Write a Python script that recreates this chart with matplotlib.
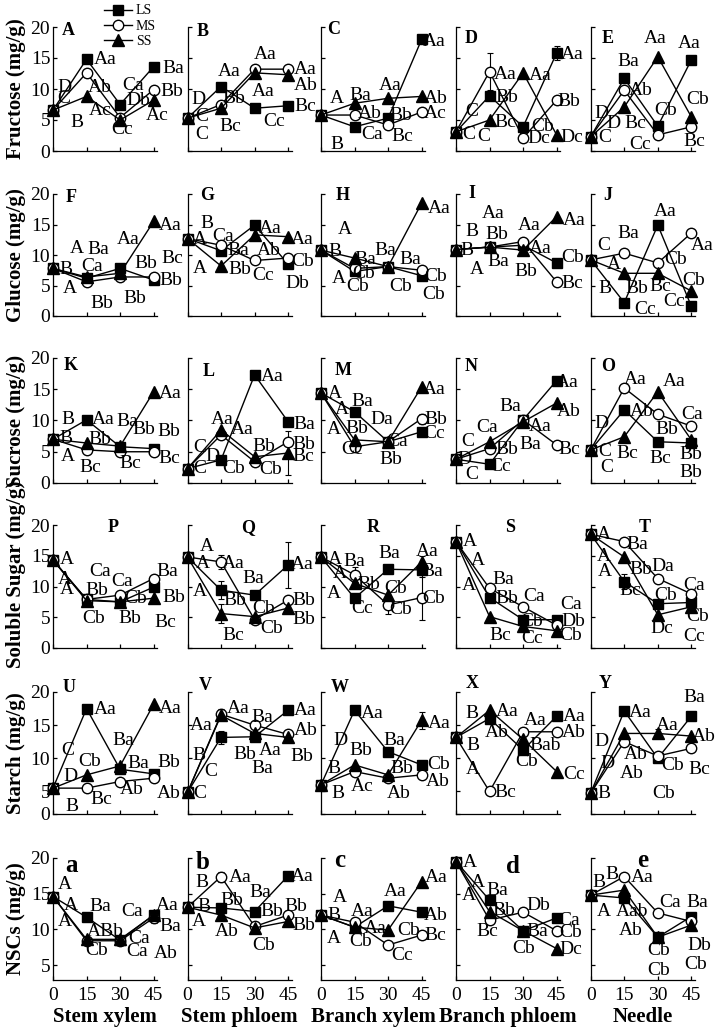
import matplotlib
matplotlib.use('Agg')
import matplotlib.pyplot as plt
from matplotlib.lines import Line2D

plt.rcParams['font.family'] = ['Liberation Serif', 'DejaVu Serif']

# 采样天数
DAYS = [0, 15, 30, 45]
SERIES = ['LS', 'MS', 'SS']
TISSUES = ['Stem xylem', 'Stem phloem', 'Branch xylem', 'Branch phloem', 'Needle']
ROW_TITLES = ['Fructose (mg/g)', 'Glucose (mg/g)', 'Sucrose (mg/g)',
              'Soluble Sugar (mg/g)', 'Starch (mg/g)', 'NSCs (mg/g)']
PANEL_TAGS = [list('ABCDE'), list('FGHIJ'), list('KLMNO'), list('PQRST'), list('UVWXY'), list('abcde')]

# ---- 数据: 每行 5 个组织, 每个组织 4 个时间点 ----
FRUCTOSE_LS = [[6.6, 14.8, 7.5, 13.6], [5.3, 10.4, 6.9, 7.3], [5.8, 3.9, 5.3, 18.0], [3.1, 8.9, 3.9, 15.8], [2.3, 11.7, 4.0, 14.7]]
FRUCTOSE_MS = [[6.6, 12.6, 5.4, 9.9], [5.3, 7.5, 13.2, 13.2], [5.8, 5.8, 4.2, 6.3], [3.1, 12.8, 2.1, 8.2], [2.3, 9.8, 2.6, 3.9]]
FRUCTOSE_SS = [[6.6, 8.8, 5.0, 8.2], [5.3, 6.9, 12.6, 12.3], [5.8, 7.7, 8.5, 8.8], [3.1, 5.0, 12.6, 2.6], [2.3, 7.1, 15.2, 5.5]]

GLUCOSE_LS = [[7.8, 6.2, 7.8, 5.9], [12.7, 10.7, 14.9, 8.5], [10.8, 7.3, 8.1, 6.6], [10.9, 11.3, 11.6, 8.7], [9.2, 2.2, 14.9, 1.6]]
GLUCOSE_MS = [[7.8, 5.6, 6.4, 6.4], [12.7, 11.6, 9.1, 9.5], [10.8, 7.8, 8.1, 7.5], [10.9, 11.3, 12.2, 5.6], [9.2, 10.3, 8.7, 13.6]]
GLUCOSE_SS = [[7.8, 6.4, 7.0, 15.5], [12.7, 8.2, 13.3, 13.0], [10.8, 9.5, 8.1, 18.5], [10.9, 11.3, 10.8, 16.3], [9.2, 7.0, 7.0, 4.1]]

SUCROSE_LS = [[7.0, 10.1, 5.8, 5.5], [2.3, 3.7, 17.3, 9.8], [14.4, 11.4, 6.6, 8.2], [3.8, 3.0, 10.1, 16.4], [5.3, 11.7, 6.6, 6.4]]
SUCROSE_MS = [[7.0, 5.3, 5.0, 5.0], [2.3, 7.7, 3.4, 6.6], [14.4, 5.8, 6.6, 10.3], [3.8, 5.5, 10.1, 6.1], [5.3, 15.2, 11.0, 9.1]]
SUCROSE_SS = [[7.0, 6.4, 5.9, 14.6], [2.3, 8.5, 4.2, 4.8], [14.4, 6.9, 6.6, 15.4], [3.8, 6.6, 9.8, 12.8], [5.3, 7.4, 14.6, 6.9]]

SUGAR_LS = [[14.3, 7.9, 7.5, 9.9], [14.8, 9.4, 8.6, 13.5], [14.8, 8.1, 12.8, 12.7], [17.3, 8.2, 4.6, 4.6], [18.5, 10.8, 7.2, 7.4]]
SUGAR_MS = [[14.3, 7.9, 8.6, 11.3], [14.8, 14.0, 4.6, 7.8], [14.8, 11.9, 7.0, 8.2], [17.3, 9.7, 6.7, 3.7], [18.5, 17.3, 11.3, 8.8]]
SUGAR_SS = [[14.3, 7.7, 7.5, 8.1], [14.8, 5.6, 5.1, 6.5], [14.8, 10.5, 8.6, 14.0], [17.3, 5.1, 3.5, 2.8], [18.5, 14.8, 5.4, 6.7]]

STARCH_LS = [[5.5, 17.5, 8.35, 7.65], [4.85, 13.15, 13.25, 17.25], [6.0, 17.25, 11.0, 9.0], [13.15, 16.0, 11.25, 16.35], [4.75, 17.15, 10.0, 16.35]]
STARCH_MS = [[5.5, 5.5, 6.5, 7.0], [4.85, 16.65, 15.0, 13.6], [6.0, 8.0, 7.0, 7.5], [13.15, 5.0, 14.0, 14.0], [4.75, 12.5, 10.35, 11.5]]
STARCH_SS = [[5.5, 7.5, 8.85, 18.15], [4.85, 16.5, 13.75, 13.15], [6.0, 9.0, 7.5, 15.75], [13.15, 17.25, 12.85, 8.0], [4.75, 13.75, 13.75, 13.35]]

NSC_LS = [[14.6, 11.7, 8.5, 12.0], [13.1, 13.0, 12.5, 17.5], [12.0, 10.3, 13.3, 12.4], [19.5, 14.1, 9.8, 11.6], [14.8, 14.4, 8.9, 11.8]]
NSC_MS = [[14.6, 8.4, 8.4, 11.6], [13.1, 17.4, 10.4, 12.0], [12.0, 11.0, 7.8, 9.2], [19.5, 11.3, 12.4, 9.8], [14.8, 17.4, 12.3, 11.1]]
NSC_SS = [[14.6, 8.6, 8.6, 12.0], [13.1, 12.0, 10.2, 11.1], [12.0, 10.3, 9.9, 16.7], [19.5, 12.5, 9.8, 7.3], [14.8, 15.5, 8.9, 10.6]]

# 误差线 (行, 列, 处理, 时间点序号, 标准误)
ERRORS = [
    (0, 3, 'LS', 3, 1.1), (0, 3, 'MS', 1, 3.0),
    (2, 1, 'SS', 3, 3.5), (2, 2, 'MS', 3, 0.8),
    (3, 1, 'LS', 1, 1.5), (3, 1, 'LS', 3, 3.8), (3, 1, 'MS', 1, 1.2), (3, 1, 'SS', 1, 1.5),
    (3, 2, 'MS', 1, 1.2), (3, 2, 'MS', 2, 1.5), (3, 2, 'MS', 3, 3.7), (3, 2, 'LS', 3, 1.2), (3, 2, 'SS', 3, 1.0),
    (3, 4, 'LS', 1, 1.2),
    (4, 1, 'MS', 1, 0.8), (4, 1, 'LS', 1, 1.0), (4, 2, 'SS', 3, 1.3), (4, 4, 'SS', 2, 0.7),
    (5, 0, 'MS', 3, 0.7), (5, 1, 'LS', 3, 0.6), (5, 1, 'MS', 1, 0.7), (5, 2, 'LS', 3, 0.6),
]

# 显著性字母 (文字, x, y)
FRUCTOSE_LABELS = [
    [('D', 5.3, 10.3), ('C', 4.8, 8.5), ('B', 10.5, 4.6), ('Aa', 23.3, 14.8), ('Ab', 20.7, 10.3), ('Ac', 21, 6.6),
     ('Ca', 36, 10.5), ('Db', 38.3, 8.2), ('Cc', 30.8, 3.4), ('Ba', 53.7, 13.3), ('Bb', 53.3, 9.6), ('Ac', 46.5, 5.8)],
    [('D', 4.8, 8.3), ('C', 6.3, 5.5), ('C', 6.3, 2.6), ('Aa', 18.8, 12.8), ('Bb', 20.6, 8.5), ('Bc', 19, 3.9),
     ('Aa', 34.8, 15.5), ('Aa', 34, 9.6), ('Cc', 38.6, 4.7), ('Aa', 52.8, 13.1), ('Ab', 52.8, 10.5), ('Bc', 52.8, 7.1)],
    [('A', 7, 8.5), ('B', 7, 1.1), ('Ba', 17.6, 9.0), ('Ab', 22, 6.1), ('Ca', 22.8, 2.6), ('Aa', 31, 10.6),
     ('Bb', 35.5, 5.8), ('Bc', 36.3, 2.3), ('Aa', 50.5, 17.6), ('Ab', 51.3, 8.5), ('Ac', 51.3, 6.1)],
    [('C', 7, 6.3), ('C', 5.5, 2.6), ('C', 12.3, 2.3), ('Aa', 22, 12.3), ('Bb', 22.8, 8.7), ('Bc', 22, 4.6),
     ('Aa', 37.8, 12.1), ('Cb', 38.6, 3.9), ('Dc', 37, 2.0), ('Aa', 52, 15.6), ('Bb', 50.6, 8.0), ('Dc', 52, 2.2)],
    [('D', 5, 6.1), ('D', 10.2, 4.4), ('C', 6.5, 2.2), ('Ba', 17, 14.4), ('Ab', 22.2, 9.8), ('Bc', 20, 4.5),
     ('Cc', 22.2, 1.0), ('Aa', 29, 18.2), ('Cb', 33.5, 6.6), ('Aa', 44, 17.4), ('Cb', 47.7, 8.3), ('Bc', 46.2, 1.5)],
]
GLUCOSE_LABELS = [
    [('A', 10.5, 11.1), ('B', 6, 7.6), ('A', 7.5, 4.5), ('Ba', 20.3, 10.9), ('Ca', 17.3, 8.1), ('Bb', 21.8, 2.1),
     ('Aa', 33.8, 12.5), ('Bb', 36.8, 2.9), ('Bb', 41.3, 8.6), ('Bc', 53.3, 9.4), ('Bb', 52.5, 5.9), ('Aa', 52.5, 14.9)],
    [('B', 8.6, 15.2), ('A', 5.6, 12.6), ('A', 5.6, 7.8), ('Ca', 16, 13.0), ('Ba', 22.8, 10.8), ('Bb', 23.6, 7.6),
     ('Aa', 37, 14.4), ('Ab', 36.3, 10.8), ('Cc', 34, 6.6), ('Aa', 51.3, 12.5), ('Cb', 51.3, 8.9), ('Db', 49, 5.3)],
    [('A', 10.8, 14.1), ('B', 6.3, 10.5), ('A', 7.8, 6.2), ('Ba', 19.8, 9.2), ('Cb', 19, 7.0), ('Cb', 16.5, 4.8),
     ('Ba', 28.8, 10.8), ('Cb', 35.5, 4.8), ('Ba', 40, 9.2), ('Aa', 52.8, 17.6), ('Cb', 51.3, 6.5), ('Cb', 50.5, 3.6)],
    [('B', 7, 13.8), ('B', 5.1, 10.8), ('A', 9.3, 7.7), ('Aa', 16.8, 16.8), ('Bb', 18.3, 13.3), ('Ba', 19, 8.9),
     ('Aa', 32.6, 14.9), ('Aa', 37.8, 11.1), ('Bb', 31, 7.3), ('Aa', 52.8, 15.7), ('Cb', 52, 9.6), ('Bc', 52, 5.35)],
    [('C', 5.7, 11.6), ('A', 10.2, 8.4), ('B', 6.5, 4.5), ('Ba', 17, 13.5), ('Bb', 20.7, 4.5), ('Cc', 24.5, 1.0),
     ('Aa', 33.5, 17.1), ('Cb', 38, 9.2), ('Bc', 31.2, 4.8), ('Cc', 37.2, 2.4), ('Aa', 50, 11.5), ('Cb', 46.2, 5.9)],
]
SUCROSE_LABELS = [
    [('B', 6.8, 10.1), ('B', 6, 7.1), ('A', 6.8, 4.2), ('Aa', 22.5, 10.1), ('Bb', 21, 6.9), ('Bc', 16.5, 2.5),
     ('Ba', 33, 9.8), ('Bc', 34.5, 3.1), ('Bb', 40.5, 8.6), ('Bb', 51.8, 8.2), ('Bc', 51.8, 3.9), ('Aa', 52.5, 14.3)],
    [('C', 5.6, 5.7), ('D', 11.1, 4.2), ('C', 5.6, 2.3), ('Aa', 15.3, 10.2), ('Aa', 24.5, 8.5), ('Cb', 20.6, 2.3),
     ('Aa', 37.8, 17.1), ('Bb', 34, 5.9), ('Cb', 37, 2.1), ('Ba', 52, 9.3), ('Bb', 52, 6.2), ('Bc', 52, 4.2)],
    [('A', 6.3, 14.3), ('A', 9.3, 11.7), ('A', 5.6, 8.5), ('Ba', 18.3, 13.0), ('Bb', 16, 8.7), ('Cc', 13.8, 5.4),
     ('Da', 27.3, 10.1), ('Ca', 34, 6.6), ('Bb', 31, 3.7), ('Aa', 50.5, 15.0), ('Bb', 51.3, 10.1), ('Cc', 50.5, 7.9)],
    [('C', 5.1, 6.6), ('D', 4, 3.7), ('C', 7, 1.4), ('Ca', 13.8, 8.9), ('Bb', 22.8, 5.4), ('Cc', 19.8, 2.7),
     ('Ba', 24.3, 12.2), ('Aa', 37.8, 9.0), ('Ba', 33.3, 6.1), ('Aa', 49.8, 16.1), ('Ab', 50.6, 11.4), ('Bc', 50.6, 5.3)],
    [('D', 5, 9.6), ('C', 6.5, 5.0), ('C', 7.2, 2.5), ('Aa', 20, 16.5), ('Ab', 23, 11.4), ('Bc', 16.2, 4.75),
     ('Aa', 37.2, 16.2), ('Bb', 34.2, 8.5), ('Bc', 31.2, 3.9), ('Ca', 45.5, 11.0), ('Bb', 44.7, 4.5), ('Bb', 44.7, 1.7)],
]
SUGAR_LABELS = [
    [('A', 6, 14.4), ('A', 5.3, 11.2), ('A', 6, 9.5), ('Ca', 21, 12.4), ('Bb', 19.5, 9.4), ('Cb', 18, 4.8),
     ('Ca', 30.8, 10.8), ('Cb', 36.8, 8.1), ('Bb', 34.5, 4.8), ('Ba', 51, 12.4), ('Bb', 54, 8.2), ('Bc', 50.3, 4.2)],
    [('A', 8.6, 16.5), ('A', 7, 13.8), ('A', 5.6, 9.2), ('Aa', 20.6, 13.8), ('Bb', 21.3, 7.8), ('Bc', 20.6, 2.1),
     ('Ba', 29.6, 11.3), ('Cb', 34, 6.4), ('Cb', 37.8, 3.2), ('Aa', 51.3, 13.5), ('Bb', 52, 7.7), ('Bb', 52, 4.6)],
    [('A', 6.3, 14.4), ('A', 8.6, 12.1), ('A', 5.6, 8.9), ('Ba', 15, 14.0), ('Bb', 21.3, 10.3), ('Cc', 18.3, 6.4),
     ('Ba', 30.3, 15.4), ('Cb', 33.3, 9.7), ('Cb', 35.5, 6.2), ('Aa', 47.5, 15.7), ('Ba', 49.8, 12.4), ('Cb', 50.5, 8.1)],
    [('A', 6, 17.3), ('A', 10, 14.3), ('A', 5.6, 10.2), ('Ba', 21.3, 11.1), ('Bb', 22.8, 8.1), ('Bc', 19.8, 2.1),
     ('Ca', 34.8, 8.3), ('Cb', 34, 4.3), ('Cc', 34, 1.6), ('Ca', 51.3, 7.0), ('Db', 52.5, 4.3), ('Cb', 51.3, 2.0)],
    [('A', 5.7, 18.5), ('A', 5.7, 14.9), ('A', 6.5, 12.4), ('Ba', 20.7, 16.9), ('Bb', 22.2, 12.7), ('Bc', 17.7, 9.4),
     ('Da', 32, 13.2), ('Cb', 33.5, 8.6), ('Dc', 32, 3.2), ('Ca', 46.2, 10.2), ('Cb', 47.7, 5.2), ('Cc', 46.2, 1.9)],
]
STARCH_LABELS = [
    [('C', 6.8, 11.25), ('D', 7.8, 7.25), ('B', 8.3, 2.75), ('Aa', 23.3, 17.35), ('Cb', 16.5, 9.5), ('Bc', 21.8, 3.75),
     ('Ba', 31.5, 12.65), ('Ba', 38.3, 9.25), ('Ab', 35.3, 5.25), ('Aa', 52.5, 17.5), ('Bb', 51.8, 9.35), ('Ab', 51.8, 4.75)],
    [('Aa', 6.3, 15.0), ('B', 5.3, 10.35), ('C', 10.5, 8.0), ('C', 5.6, 4.65), ('Aa', 22.8, 17.5), ('Bb', 25.8, 10.5),
     ('Ba', 33.3, 16.15), ('Aa', 37, 11.25), ('Ba', 33.3, 8.5), ('Aa', 52.8, 17.25), ('Ab', 52.8, 14.25), ('Bb', 51.3, 10.25)],
    [('D', 8.6, 12.75), ('B', 5.6, 8.5), ('B', 7.8, 4.75), ('Aa', 22.8, 16.75), ('Bb', 18, 11.15), ('Ac', 18.3, 5.75),
     ('Ba', 32.6, 12.75), ('Bb', 36.3, 8.5), ('Ab', 34.8, 4.75), ('Aa', 52.8, 15.25), ('Cb', 52.8, 9.0), ('Ab', 52, 6.5)],
    [('B', 7, 16.75), ('B', 7.5, 12.0), ('A', 7.5, 8.35), ('Aa', 22.8, 17.0), ('Ab', 18.3, 13.85), ('Bc', 22, 4.85),
     ('Aa', 35.5, 15.75), ('Bab', 40, 12.0), ('Cb', 31.8, 9.5), ('Aa', 52.8, 16.35), ('Ab', 52.8, 13.85), ('Cc', 52.8, 7.5)],
    [('D', 5, 12.5), ('D', 7.5, 9.25), ('B', 6, 4.65), ('Aa', 22.2, 16.85), ('Ab', 20, 10.5), ('Ab', 18.5, 7.65),
     ('Aa', 34.2, 15.0), ('Cb', 36.5, 8.85), ('Cb', 32.7, 4.75), ('Ba', 46.2, 19.15), ('Ab', 50.7, 13.35), ('Bc', 48.5, 8.35)],
]
NSC_LABELS = [
    [('A', 5.3, 16.25), ('A', 8, 13.4), ('A', 5.3, 11.1), ('Ba', 21, 13.2), ('ABb', 23.3, 9.7), ('Cb', 19.5, 7.1),
     ('Ca', 35.3, 12.5), ('Ca', 38.3, 8.75), ('Ca', 37.5, 6.9), ('Aa', 51, 13.4), ('Ba', 52.5, 10.4), ('Ab', 50.3, 6.6)],
    [('B', 6.3, 16.5), ('B', 7.4, 13.2), ('A', 5.1, 11.1), ('Aa', 23.6, 17.3), ('Bb', 19.8, 14.1), ('Ab', 17.6, 9.7),
     ('Ba', 32.6, 15.1), ('Bb', 37.8, 12.5), ('Cb', 34, 7.8), ('Aa', 51.3, 17.4), ('Bb', 48.5, 13.2), ('Bb', 52, 10.6)],
    [('A', 8.6, 14.4), ('B', 5.6, 11.9), ('A', 5.6, 8.75), ('Aa', 18.3, 12.5), ('Aa', 24.3, 10.15), ('Cb', 17.6, 8.3),
     ('Aa', 33.3, 15.3), ('Cb', 39.3, 9.9), ('Cc', 36.3, 6.3), ('Aa', 51.3, 17.2), ('Ab', 51.3, 12.0), ('Bc', 51.3, 9.2)],
    [('A', 6.3, 19.3), ('A', 10, 16.5), ('A', 5.6, 14.8), ('Ba', 18.3, 15.5), ('Bb', 21.3, 12.7), ('Bc', 13.8, 9.7),
     ('Db', 37, 13.4), ('Ba', 36.3, 9.7), ('Cb', 30.3, 7.3), ('Ca', 50.6, 11.3), ('Cb', 51.3, 9.5), ('Dc', 51.3, 7.2)],
    [('B', 3.5, 16.5), ('B', 9.5, 17.7), ('A', 5.7, 12.5), ('Aa', 23, 17.3), ('Aab', 18.5, 12.5), ('Ab', 17.7, 9.9),
     ('Ca', 35.7, 13.8), ('Cb', 30.5, 7.1), ('Cb', 30.5, 4.2), ('Ba', 47.7, 13.8), ('Db', 48.5, 7.8), ('Cb', 47, 5.1)],
]

ROWS = [
    (FRUCTOSE_LS, FRUCTOSE_MS, FRUCTOSE_SS, FRUCTOSE_LABELS),
    (GLUCOSE_LS, GLUCOSE_MS, GLUCOSE_SS, GLUCOSE_LABELS),
    (SUCROSE_LS, SUCROSE_MS, SUCROSE_SS, SUCROSE_LABELS),
    (SUGAR_LS, SUGAR_MS, SUGAR_SS, SUGAR_LABELS),
    (STARCH_LS, STARCH_MS, STARCH_SS, STARCH_LABELS),
    (NSC_LS, NSC_MS, NSC_SS, NSC_LABELS),
]

# ---- 版式 (像素) ----
W, H = 717, 1032
COL_LEFT = [53, 187.5, 321, 456, 590.7]
AX_W = 104
ROW_TB = [(27, 151), (194, 316), (358, 483), (525, 648), (692, 814), (858, 980)]
Y_BOTTOM = [0, 0, 0, 0, 1.6, 2.9]
YLABEL_Y = [0.5, 0.5, 0.5, 0.6, 0.5, 0.5]
TAG_X = [[0.15, 0.15, 0.12, 0.15, 0.16], [0.17, 0.19, 0.21, 0.15, 0.16], [0.17, 0.2, 0.21, 0.15, 0.17],
         [0.58, 0.58, 0.5, 0.52, 0.52], [0.15, 0.17, 0.18, 0.16, 0.14], [0.18, 0.15, 0.18, 0.55, 0.5]]
TAG_Y = [[0.97, 0.96, 0.98, 0.91, 0.91], [0.975, 0.99, 0.99, 1.0, 0.99], [0.94, 0.89, 0.9, 0.93, 0.93],
         [0.98, 0.98, 0.98, 0.98, 0.98], [1.04, 1.05, 1.04, 1.07, 1.07], [0.94, 0.96, 0.98, 0.93, 0.98]]

STYLE = {
    'LS': dict(marker='s', mfc='black', ms=6.5),
    'MS': dict(marker='o', mfc='white', ms=7.5),
    'SS': dict(marker='^', mfc='black', ms=8),
}

fig = plt.figure(figsize=(W / 100, H / 100), dpi=100)

for r, (ls_vals, ms_vals, ss_vals, labels) in enumerate(ROWS):
    top, bot = ROW_TB[r]
    for c, left in enumerate(COL_LEFT):
        ax = fig.add_axes([left / W, 1 - bot / H, AX_W / W, (bot - top) / H])
        vals = {'LS': ls_vals[c], 'MS': ms_vals[c], 'SS': ss_vals[c]}

        # 折线 + 标记
        for s in SERIES:
            st = STYLE[s]
            ax.plot(DAYS, vals[s], color='black', lw=1.0, marker=st['marker'], ms=st['ms'],
                    mfc=st['mfc'], mec='black', mew=1.0, clip_on=False, zorder=3)

        # 误差线
        for er, ec, es, ei, ev in ERRORS:
            if er == r and ec == c:
                ax.errorbar(DAYS[ei], vals[es][ei], yerr=ev, fmt='none', ecolor='black',
                            elinewidth=0.8, capsize=2.5, capthick=0.8, zorder=2, clip_on=False)

        # 显著性字母
        for txt, lx, ly in labels[c]:
            ax.text(lx, ly, txt, ha='center', va='center', fontsize=14, zorder=4, clip_on=False)

        # 坐标轴
        ax.set_xlim(0, 46.5)
        ax.set_ylim(Y_BOTTOM[r], 20)
        ax.set_xticks(DAYS)
        if r == 4:
            ax.set_yticks([Y_BOTTOM[r], 5, 10, 15, 20])
            ax.set_yticklabels(['0', '5', '10', '15', '20'])
        elif r == 5:
            ax.set_yticks([5, 10, 15, 20])
        else:
            ax.set_yticks([0, 5, 10, 15, 20])
        ax.spines['top'].set_visible(False)
        ax.spines['right'].set_visible(False)
        for sp in ('left', 'bottom'):
            ax.spines[sp].set_linewidth(0.9)
        ax.tick_params(direction='in', length=3, width=0.9, labelsize=14, pad=2)
        ax.tick_params(axis='x', pad=5)
        if c != 0:
            ax.tick_params(labelleft=False)
        else:
            ax.set_ylabel(ROW_TITLES[r], fontsize=15, fontweight='bold')
            ax.yaxis.set_label_coords(-0.26, YLABEL_Y[r])
        if r != 5:
            ax.tick_params(labelbottom=False)
        else:
            ax.set_xlabel(TISSUES[c], fontsize=15, fontweight='bold', labelpad=2)

        # 子图编号
        tag_size = 18 if r == 5 else 13
        ax.text(TAG_X[r][c], TAG_Y[r][c], PANEL_TAGS[r][c], transform=ax.transAxes,
                ha='center', va='center', fontsize=tag_size, fontweight='bold', clip_on=False)

# 图例
handles = [Line2D([0], [0], color='black', lw=1.0, marker=STYLE[s]['marker'], ms=STYLE[s]['ms'],
                  mfc=STYLE[s]['mfc'], mec='black') for s in SERIES]
fig.legend(handles, SERIES, loc='center left', bbox_to_anchor=(104 / W, 1 - 26 / H), frameon=False,
           fontsize=10, handlelength=2.0, handletextpad=0.3, labelspacing=0.15, borderpad=0, borderaxespad=0)

fig.savefig('out.png', dpi=100)
